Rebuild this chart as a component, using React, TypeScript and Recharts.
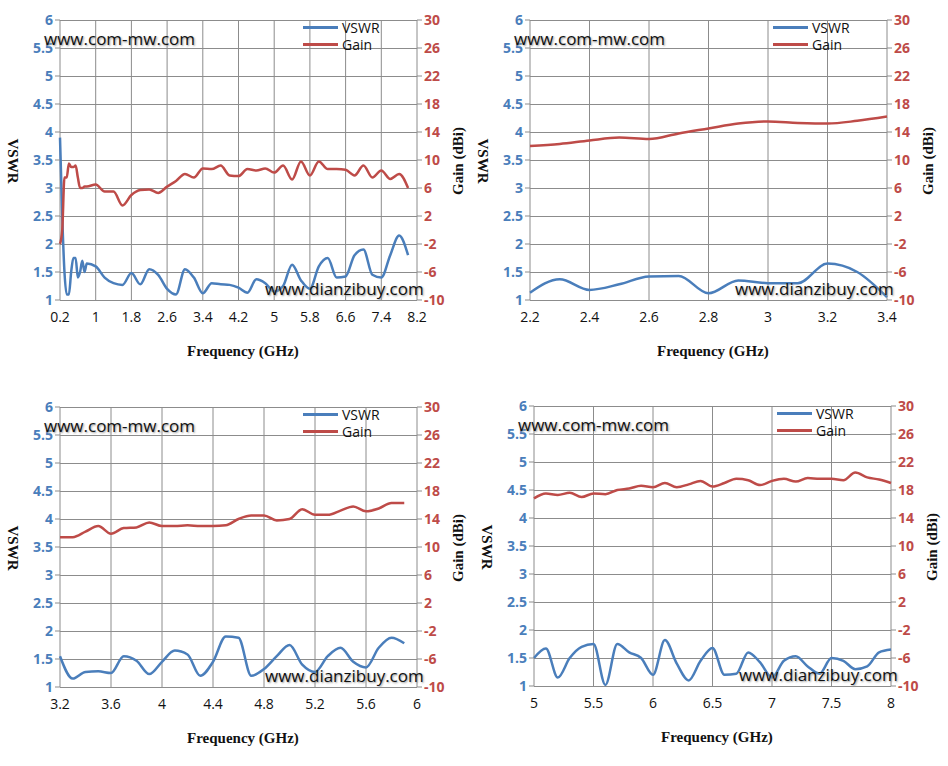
import React from "react"
import {
  ComposedChart,
  Line,
  XAxis,
  YAxis,
  CartesianGrid,
} from "recharts"

// panel 1: 0.2 - 8.2 GHz
const freqA = [0.2, 0.25, 0.3, 0.35, 0.4, 0.45, 0.5, 0.55, 0.6, 0.65, 0.7, 0.75, 0.8, 1.0, 1.2, 1.4, 1.6, 1.8, 2.0, 2.2, 2.4, 2.6, 2.8, 3.0, 3.2, 3.4, 3.6, 3.8, 4.0, 4.2, 4.4, 4.6, 4.8, 5.0, 5.2, 5.4, 5.6, 5.8, 6.0, 6.2, 6.4, 6.6, 6.8, 7.0, 7.2, 7.4, 7.6, 7.8, 8.0]
const vswrA = [3.9, 2.5, 1.5, 1.1, 1.1, 1.5, 1.75, 1.75, 1.4, 1.5, 1.7, 1.5, 1.65, 1.6, 1.4, 1.3, 1.27, 1.48, 1.28, 1.55, 1.45, 1.2, 1.1, 1.55, 1.4, 1.12, 1.3, 1.28, 1.27, 1.22, 1.13, 1.37, 1.3, 1.15, 1.25, 1.63, 1.35, 1.2, 1.6, 1.75, 1.4, 1.42, 1.8, 1.9, 1.45, 1.4, 1.8, 2.15, 1.8]
const gainA = [-2, 0, 7.5, 7.5, 9.5, 9, 9, 9.2, 7.5, 6, 6, 6.2, 6.2, 6.5, 5.5, 5.5, 3.5, 5, 5.7, 5.8, 5.3, 6.2, 7, 8, 7.5, 8.8, 8.7, 9.2, 7.8, 7.7, 8.7, 8.5, 8.8, 8.2, 9.2, 7.2, 9.8, 7.8, 9.8, 8.7, 8.7, 8.6, 7.8, 9.2, 7.5, 8.5, 7.3, 8, 6]
const ticksA = [0.2, 1, 1.8, 2.6, 3.4, 4.2, 5, 5.8, 6.6, 7.4, 8.2]

// panel 2: 2.2 - 3.4 GHz
const freqB = [2.2, 2.3, 2.4, 2.5, 2.6, 2.7, 2.8, 2.9, 3.0, 3.1, 3.2, 3.3, 3.4]
const vswrB = [1.13, 1.37, 1.18, 1.28, 1.42, 1.43, 1.12, 1.35, 1.3, 1.3, 1.65, 1.5, 1.05]
const gainB = [12, 12.3, 12.8, 13.2, 13, 13.8, 14.5, 15.2, 15.5, 15.3, 15.2, 15.6, 16.2]
const ticksB = [2.2, 2.4, 2.6, 2.8, 3, 3.2, 3.4]

// panel 3: 3.2 - 6 GHz
const freqC = [3.2, 3.3, 3.4, 3.5, 3.6, 3.7, 3.8, 3.9, 4.0, 4.1, 4.2, 4.3, 4.4, 4.5, 4.6, 4.7, 4.8, 4.9, 5.0, 5.1, 5.2, 5.3, 5.4, 5.5, 5.6, 5.7, 5.8, 5.9]
const vswrC = [1.55, 1.15, 1.27, 1.28, 1.25, 1.55, 1.47, 1.23, 1.45, 1.65, 1.58, 1.2, 1.45, 1.9, 1.88, 1.2, 1.32, 1.55, 1.75, 1.4, 1.27, 1.55, 1.7, 1.45, 1.35, 1.7, 1.88, 1.78]
const gainC = [11.4, 11.4, 12.2, 13, 11.9, 12.7, 12.8, 13.5, 13, 13, 13.1, 13, 13, 13.1, 14, 14.5, 14.5, 13.8, 14, 15.4, 14.6, 14.6, 15.2, 15.8, 15.1, 15.5, 16.3, 16.3]
const ticksC = [3.2, 3.6, 4, 4.4, 4.8, 5.2, 5.6, 6]

// panel 4: 5 - 8 GHz
const freqD = [5.0, 5.1, 5.2, 5.3, 5.4, 5.5, 5.6, 5.7, 5.8, 5.9, 6.0, 6.1, 6.2, 6.3, 6.4, 6.5, 6.6, 6.7, 6.8, 6.9, 7.0, 7.1, 7.2, 7.3, 7.4, 7.5, 7.6, 7.7, 7.8, 7.9, 8.0]
const vswrD = [1.5, 1.67, 1.15, 1.5, 1.7, 1.75, 1.02, 1.75, 1.6, 1.5, 1.2, 1.82, 1.4, 1.1, 1.45, 1.68, 1.2, 1.22, 1.6, 1.42, 1.15, 1.45, 1.53, 1.35, 1.22, 1.5, 1.45, 1.3, 1.35, 1.6, 1.65]
const gainD = [16.8, 17.5, 17.3, 17.6, 17, 17.5, 17.4, 18, 18.2, 18.6, 18.4, 19, 18.4, 18.8, 19.3, 18.5, 19, 19.6, 19.4, 18.7, 19.3, 19.6, 19.2, 19.7, 19.6, 19.6, 19.4, 20.5, 19.8, 19.5, 19]
const ticksD = [5, 5.5, 6, 6.5, 7, 7.5, 8]

const vswrTicks = [1, 1.5, 2, 2.5, 3, 3.5, 4, 4.5, 5, 5.5, 6]
const gainTicks = [-10, -6, -2, 2, 6, 10, 14, 18, 22, 26, 30]

const BLUE = "#4a7ebb"
const RED = "#be4b48"
const GRID = "#8c8c8c"
const SANS = "'Open Sans', 'Liberation Sans', sans-serif"
const SERIF = "'Liberation Serif', 'DejaVu Serif', serif"

const wm = {
  position: "absolute" as const,
  fontFamily: SANS,
  fontSize: 17,
  color: "#111",
  textShadow: "1px 1px 2px #999",
  whiteSpace: "nowrap" as const,
}

const axisTitle = {
  position: "absolute" as const,
  fontFamily: SERIF,
  fontWeight: "bold" as const,
  fontSize: 15,
  color: "#111",
  whiteSpace: "nowrap" as const,
  width: 100,
  textAlign: "center" as const,
  lineHeight: "18px",
}

function Panel({
  freq,
  vswr,
  gain,
  ticks,
  left,
  top,
}: {
  freq: number[]
  vswr: number[]
  gain: number[]
  ticks: number[]
  left: number
  top: number
}) {
  const data = freq.map((f, i) => ({ f, vswr: vswr[i], gain: gain[i] }))
  return (
    <div style={{ position: "absolute", left, top, width: 474, height: 383 }}>
      {/* horizontal gridlines (10 equal bands of the plot area) */}
      <div
        style={{
          position: "absolute",
          left: 60,
          top: 20,
          width: 357,
          height: 281,
          backgroundImage: `repeating-linear-gradient(to bottom, ${GRID} 0px, ${GRID} 1px, transparent 1px, transparent 28px)`,
        }}
      />
      <div style={{ position: "absolute", left: 0, top: 0 }}>
        <ComposedChart
          width={474}
          height={383}
          data={data}
          margin={{ top: 20, right: 0, left: 0, bottom: 28 }}
        >
          <CartesianGrid stroke={GRID} strokeWidth={1} horizontal={false} />
          <XAxis
            dataKey="f"
            type="number"
            domain={[ticks[0], ticks[ticks.length - 1]]}
            ticks={ticks}
            interval={0}
            axisLine={false}
            tickLine={false}
            height={55}
            tick={{ fontSize: 14, fill: "#111", fontFamily: SANS }}
            tickMargin={6}
          />
          <YAxis
            yAxisId="v"
            type="number"
            domain={[1, 6]}
            ticks={vswrTicks}
            interval={0}
            width={60}
            axisLine={false}
            tickLine={{ stroke: GRID }}
            tickSize={5}
            tick={{ fontSize: 14, fill: BLUE, fontFamily: SANS, fontWeight: "bold" }}
          />
          <YAxis
            yAxisId="g"
            type="number"
            orientation="right"
            domain={[-10, 30]}
            ticks={gainTicks}
            interval={0}
            width={57}
            axisLine={false}
            tickLine={{ stroke: GRID }}
            tickSize={5}
            tick={{ fontSize: 14, fill: RED, fontFamily: SANS, fontWeight: "bold" }}
          />
          <Line
            yAxisId="v"
            dataKey="vswr"
            type="monotone"
            stroke={BLUE}
            strokeWidth={2.5}
            dot={false}
            isAnimationActive={false}
          />
          <Line
            yAxisId="g"
            dataKey="gain"
            type="monotone"
            stroke={RED}
            strokeWidth={2.5}
            dot={false}
            isAnimationActive={false}
          />
        </ComposedChart>
      </div>
      <div style={{ position: "absolute", left: 303, top: 19, fontFamily: SANS, fontSize: 14, lineHeight: "17px", color: "#111" }}>
        <div style={{ display: "flex", alignItems: "center" }}>
          <span style={{ width: 35, height: 3, background: BLUE, marginRight: 4 }} />
          VSWR
        </div>
        <div style={{ display: "flex", alignItems: "center" }}>
          <span style={{ width: 35, height: 3, background: RED, marginRight: 4 }} />
          Gain
        </div>
      </div>
      <div style={{ ...wm, left: 44, top: 27 }}>www.com-mw.com</div>
      <div style={{ ...wm, left: 265, top: 277 }}>www.dianzibuy.com</div>
      <div style={{ ...axisTitle, left: 187, top: 342, width: 100 }}>Frequency (GHz)</div>
      <div style={{ ...axisTitle, left: -37, top: 152, transform: "rotate(90deg)" }}>VSWR</div>
      <div style={{ ...axisTitle, left: 408, top: 152, transform: "rotate(-90deg)" }}>Gain (dBi)</div>
    </div>
  )
}

export default function App() {
  return (
    <div style={{ position: "absolute", left: 0, top: 0, width: 948, height: 766, background: "#fff" }}>
      <Panel freq={freqA} vswr={vswrA} gain={gainA} ticks={ticksA} left={0} top={0} />
      <Panel freq={freqB} vswr={vswrB} gain={gainB} ticks={ticksB} left={470} top={0} />
      <Panel freq={freqC} vswr={vswrC} gain={gainC} ticks={ticksC} left={0} top={387} />
      <Panel freq={freqD} vswr={vswrD} gain={gainD} ticks={ticksD} left={474} top={386} />
    </div>
  )
}
